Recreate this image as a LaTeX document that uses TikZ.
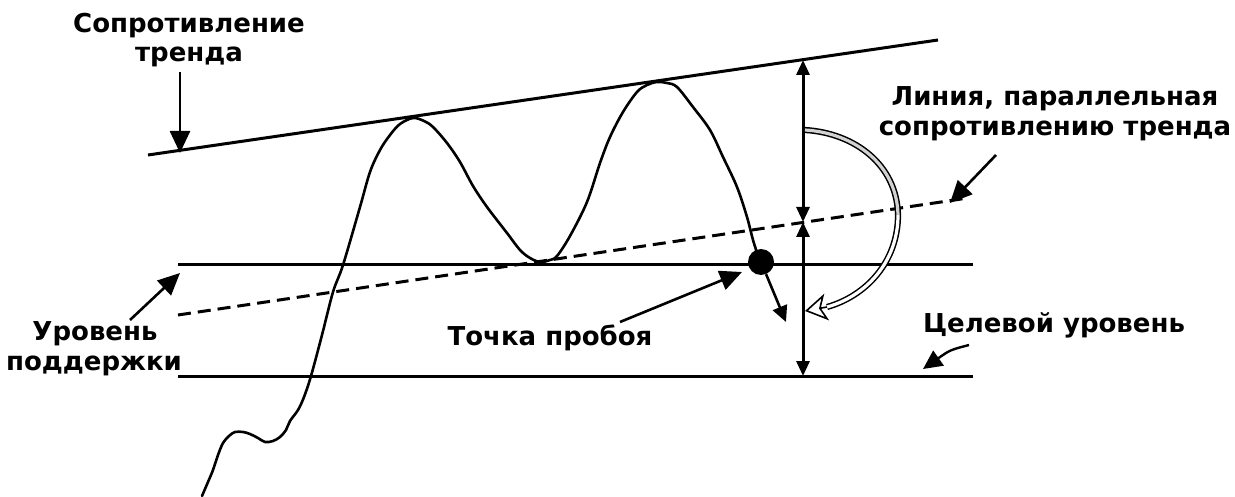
\documentclass[tikz,border=0pt]{standalone}
\usepackage{fontspec}
\newfontfamily\lblfont{DejaVu Sans}
\usetikzlibrary{arrows.meta}
\begin{document}
\begin{tikzpicture}[x=1pt,y=-1pt,
  lbl/.style={inner sep=0pt, anchor=base, font=\lblfont\bfseries\fontsize{26pt}{31pt}\selectfont},
  mainline/.style={line width=3pt},
  dashline/.style={line width=3pt, dash pattern=on 13pt off 7pt},
  curve/.style={line width=2.6pt, line join=round, line cap=round},
  lblarrow/.style={line width=2.6pt, -{Triangle[length=22pt,width=20pt]}},
  smallarrow/.style={line width=2.6pt, -{Triangle[length=16pt,width=15pt]}},
  measarrow/.style={line width=3pt, {Triangle[length=15pt,width=13pt]}-{Triangle[length=15pt,width=13pt]}},
  bandgray/.style={line width=1.5pt, double=gray!35, double distance=3.2pt},
  bandwhite/.style={line width=1.5pt, double=white, double distance=3.2pt},
]
\useasboundingbox (0,0) rectangle (1235,497);
% trend lines
\coordinate (R1) at (148,155); \coordinate (R2) at (938,40);
\coordinate (D1) at (178,315); \coordinate (D2) at (968,198);
\coordinate (S1) at (178,265); \coordinate (S2) at (973,265);
\coordinate (T1) at (178,376); \coordinate (T2) at (973,376);
\draw[mainline] (R1) -- (R2);
\draw[dashline] (D1) -- (D2);
\draw[mainline] (S1) -- (S2);
\draw[mainline] (T1) -- (T2);
% price curve
\draw[curve] plot[smooth, tension=0.55] coordinates {
 (202,496) (208,482) (213,470) (218,455) (223,443) (229,436) (235,432) (243,432)
 (250,434) (258,438) (265,442) (273,441) (280,437) (286,430) (290,421) (298,410)
 (304,397) (311,376) (322,335) (333,292) (343,265) (360,207) (370,172) (380,150)
 (390,135) (400,124) (413,118) (424,121) (433,127) (447,143) (460,162) (473,186)
 (487,207) (507,233) (520,250) (530,258) (540,262) (550,260) (557,256) (570,236)
 (587,202) (600,163) (610,137) (623,112) (637,92) (647,85) (657,82) (667,83)
 (677,87) (693,107) (710,130) (723,157) (737,187) (747,217) (753,240) (760,262)};
% breakout point
\node[circle, fill=black, inner sep=0pt, minimum size=26pt] (dot) at (761,262) {};
\coordinate (brkTip) at (786,322);
\draw[smallarrow] (dot) -- (brkTip);
% measuring arrows
\coordinate (vtop) at (803,60); \coordinate (vmid) at (803,222); \coordinate (vbot) at (803,376);
\draw[measarrow] (vtop) -- (vmid);
\draw[measarrow] (vmid) -- (vbot);
% curved hollow arrow
\coordinate (ca) at (805,130); \coordinate (cb) at (898,215);
\coordinate (chb) at (827,307); \coordinate (cht) at (805,311);
\draw[bandgray] (ca) .. controls (855,133) and (897,165) .. (cb);
\draw[bandwhite] (cb) .. controls (898,262) and (866,296) .. (chb);
\draw[line width=1.6pt, -{Stealth[open, length=22pt, width=27pt, inset=6pt]}] (chb) -- (cht);
% labels
\node[lbl] (res1) at (189,33) {Сопротивление};
\node[lbl] (res2) at (189,62) {тренда};
\node[lbl] (par1) at (1055,106) {Линия, параллельная};
\node[lbl] (par2) at (1055,136) {сопротивлению тренда};
\node[lbl] (sup1) at (95,340) {Уровень};
\node[lbl] (sup2) at (94,370) {поддержки};
\node[lbl] (tpb) at (550,345) {Точка пробоя};
\node[lbl] (tgt) at (1054,332) {Целевой уровень};
% label arrows
\coordinate (resS) at (180,72); \coordinate (resE) at (180,153);
\coordinate (parS) at (996,155); \coordinate (parE) at (950,203);
\coordinate (supS) at (130,320); \coordinate (supE) at (180,273);
\coordinate (tpbS) at (620,322); \coordinate (tpbE) at (742,272);
\coordinate (tgtS) at (969,345); \coordinate (tgtE) at (923,369);
\draw[lblarrow] (resS) -- (resE);
\draw[lblarrow] (parS) -- (parE);
\draw[lblarrow] (supS) -- (supE);
\draw[lblarrow] (tpbS) -- (tpbE);
\draw[line width=2.4pt, -{Triangle[length=19pt,width=18pt]}] (tgtS) .. controls (950,350) .. (tgtE);
\end{tikzpicture}
\end{document}
